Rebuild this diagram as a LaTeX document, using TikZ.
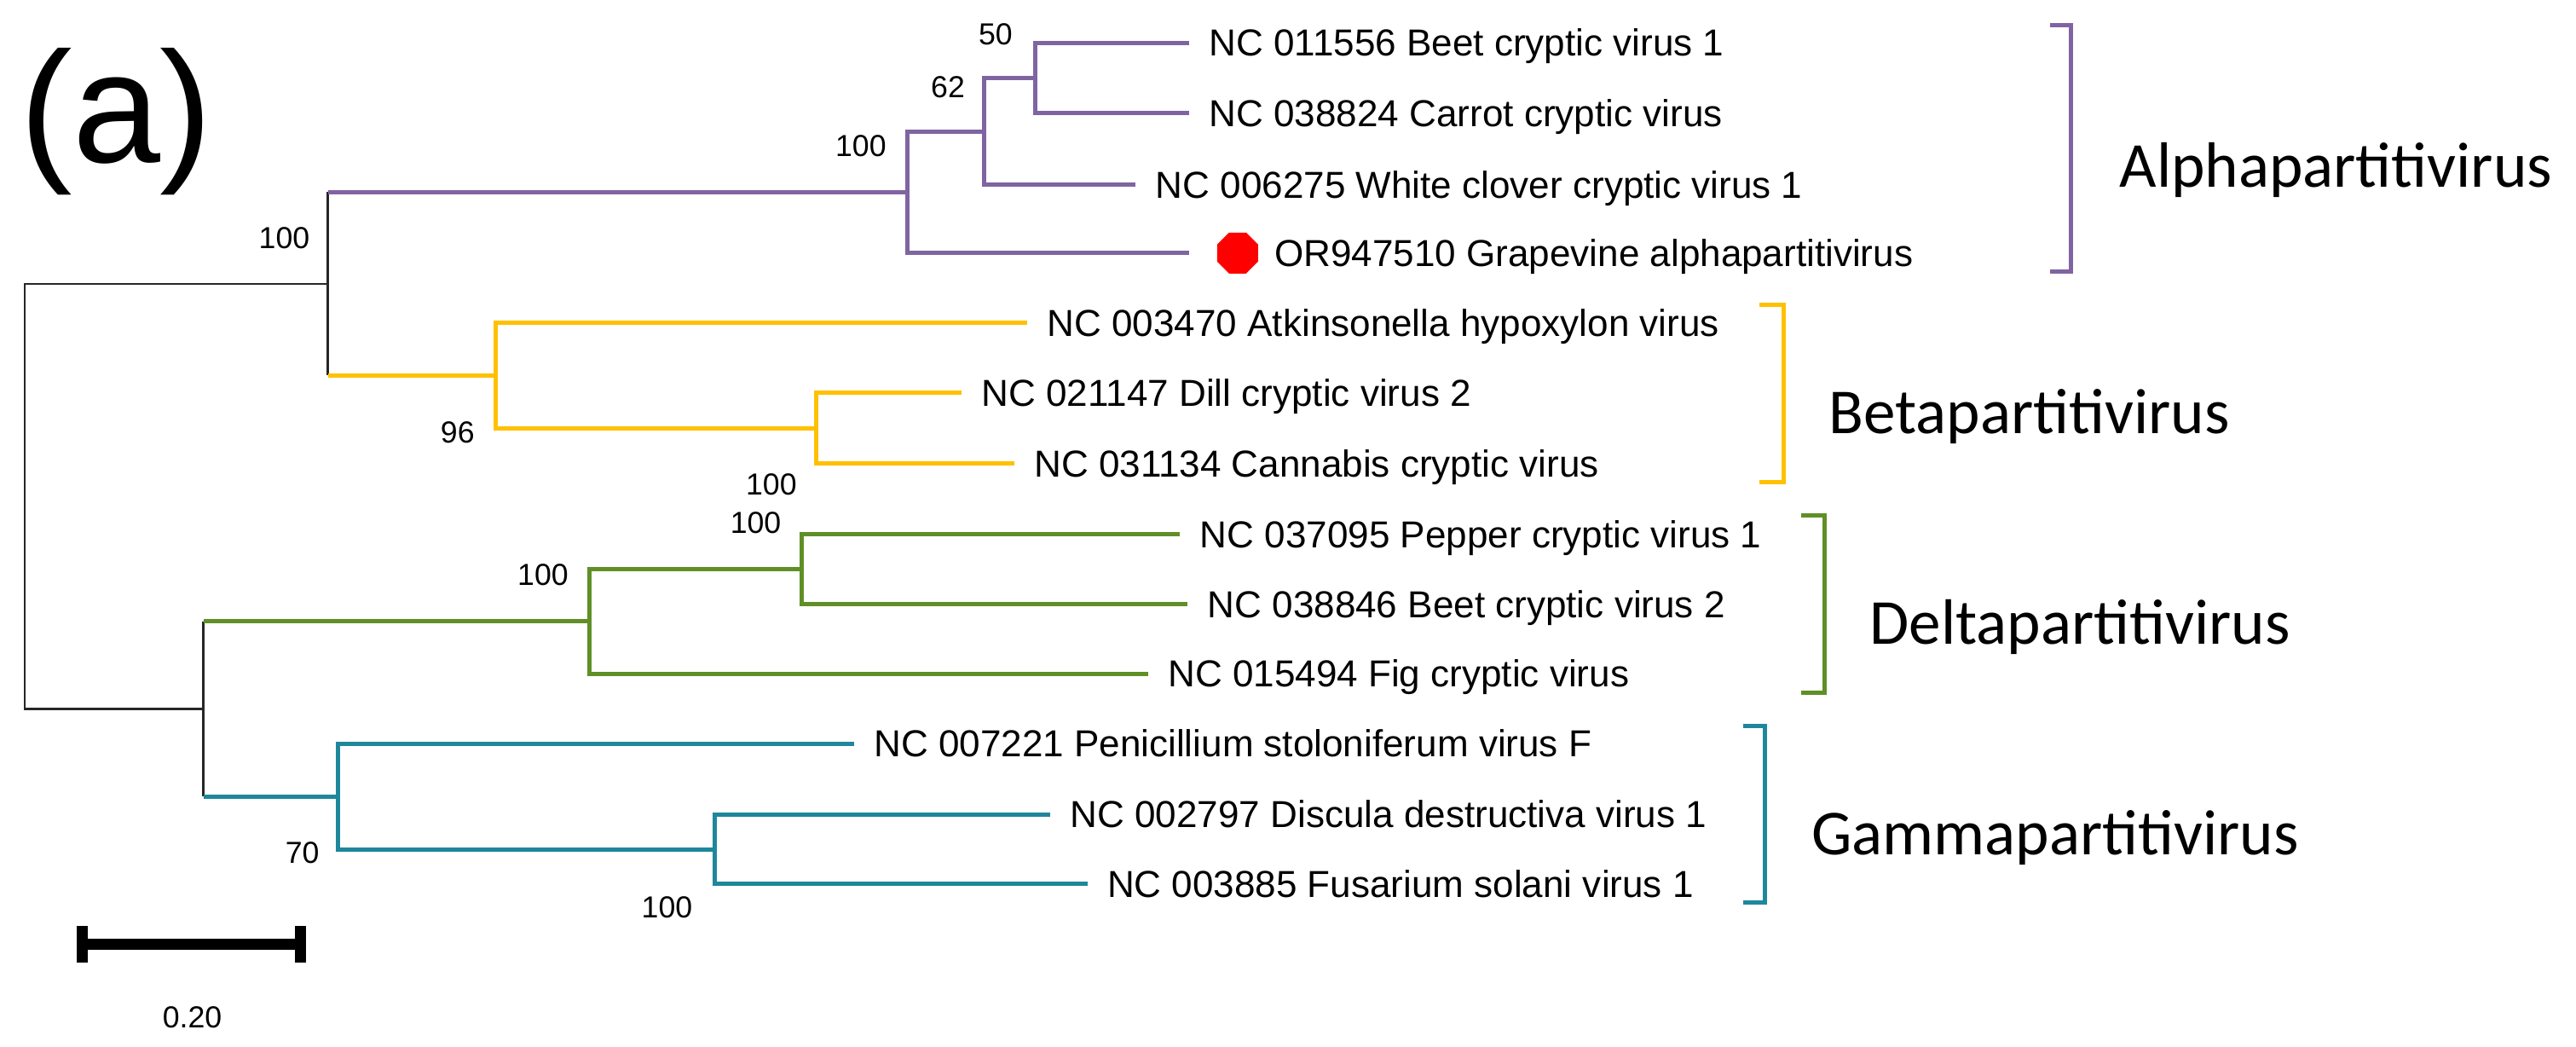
\documentclass[tikz,border=0pt]{standalone}
\usepackage{fontspec}
\setmainfont{Liberation Sans}
\newfontfamily\cladefont{Carlito}
\usetikzlibrary{shapes.geometric}
\definecolor{cAlpha}{HTML}{8064A2}
\definecolor{cBeta}{HTML}{FFC000}
\definecolor{cDelta}{HTML}{5F8F26}
\definecolor{cGamma}{HTML}{1E879B}
\newcommand\leaffont{\fontsize{22.85pt}{26pt}\selectfont}
\newcommand\suppfont{\fontsize{18.5pt}{21pt}\selectfont}
\newcommand\cladesize{\cladefont\fontsize{39pt}{44pt}\selectfont}
\begin{document}
\begin{tikzpicture}[x=1pt,y=-1pt,
  blk/.style={line width=1.3pt,black!85},
  brA/.style={line width=2.6pt,cAlpha},
  brB/.style={line width=2.6pt,cBeta},
  brD/.style={line width=2.6pt,cDelta},
  brG/.style={line width=2.6pt,cGamma},
  leaf/.style={anchor=west,inner sep=0pt,font=\leaffont,text height=16.36pt,text depth=0pt},
  supp/.style={inner sep=0pt,font=\suppfont},
  clade/.style={anchor=base west,inner sep=0pt,font=\cladesize},
  dotmark/.style={regular polygon,regular polygon sides=8,fill=red,draw=none,minimum size=27pt,inner sep=0pt},
  bracket/.style={line width=2.6pt}
]
\useasboundingbox (0,0) rectangle (1568,637);

% panel label
\node[anchor=base west,inner sep=0pt,font=\fontsize{96pt}{110pt}\selectfont] (panel) at (12,99) {(a)};

% internal nodes
\coordinate (root) at (15,302);
\coordinate (nAB) at (199.5,172.75);
\coordinate (nDG) at (123.8,431.4);
\coordinate (nA) at (552.4,117);
\coordinate (nA2) at (599,80);
\coordinate (nA3) at (630,47.5);
\coordinate (nB) at (301.5,228.5);
\coordinate (nB2) at (497,260.5);
\coordinate (nD) at (358.6,378.2);
\coordinate (nD2) at (488,346.35);
\coordinate (nG) at (205.6,484.65);
\coordinate (nG2) at (435,516.8);

% leaves
\node[leaf] (l1) at (735.9,26) {NC 011556 Beet cryptic virus 1};
\node[leaf] (l2) at (735.9,69) {NC 038824 Carrot cryptic virus};
\node[leaf] (l3) at (703.3,112.5) {NC 006275 White clover cryptic virus 1};
\node[dotmark] (dot) at (753.3,154) {};
\node[leaf] (l4) at (775.6,154) {OR947510 Grapevine alphapartitivirus};
\node[leaf] (l5) at (637.3,196.5) {NC 003470 Atkinsonella hypoxylon virus};
\node[leaf] (l6) at (597.3,239) {NC 021147 Dill cryptic virus 2};
\node[leaf] (l7) at (629.3,282) {NC 031134 Cannabis cryptic virus};
\node[leaf] (l8) at (730.3,325.2) {NC 037095 Pepper cryptic virus 1};
\node[leaf] (l9) at (734.9,367.5) {NC 038846 Beet cryptic virus 2};
\node[leaf] (l10) at (710.8,410) {NC 015494 Fig cryptic virus};
\node[leaf] (l11) at (531.8,452.5) {NC 007221 Penicillium stoloniferum virus F};
\node[leaf] (l12) at (651.3,495.6) {NC 002797 Discula destructiva virus 1};
\node[leaf] (l13) at (673.8,538) {NC 003885 Fusarium solani virus 1};

% black backbone
\draw[blk] (root) |- (nAB);
\draw[blk] (root) |- (nDG);
\draw[blk] (nAB |- nA) -- (nAB |- nB);
\draw[blk] (nDG |- nD) -- (nDG |- nG);

% Alphapartitivirus
\draw[brA] (nAB |- nA) -- (nA);
\draw[brA] (nA) |- (nA2);
\draw[brA] (nA) |- ([xshift=-16.8pt]dot.west);
\draw[brA] (nA2) |- (nA3);
\draw[brA] (nA2) |- ([xshift=-12pt]l3.west);
\draw[brA] (nA3) |- ([xshift=-12pt]l1.west);
\draw[brA] (nA3) |- ([xshift=-12pt]l2.west);

% Betapartitivirus
\draw[brB] (nAB |- nB) -- (nB);
\draw[brB] (nB) |- ([xshift=-12pt]l5.west);
\draw[brB] (nB) |- (nB2);
\draw[brB] (nB2) |- ([xshift=-12pt]l6.west);
\draw[brB] (nB2) |- ([xshift=-12pt]l7.west);

% Deltapartitivirus
\draw[brD] (nDG |- nD) -- (nD);
\draw[brD] (nD) |- (nD2);
\draw[brD] (nD) |- ([xshift=-12pt]l10.west);
\draw[brD] (nD2) |- ([xshift=-12pt]l8.west);
\draw[brD] (nD2) |- ([xshift=-12pt]l9.west);

% Gammapartitivirus
\draw[brG] (nDG |- nG) -- (nG);
\draw[brG] (nG) |- ([xshift=-12pt]l11.west);
\draw[brG] (nG) |- (nG2);
\draw[brG] (nG2) |- ([xshift=-12pt]l12.west);
\draw[brG] (nG2) |- ([xshift=-12pt]l13.west);

% support values
\node[supp] (s1) at (606,21) {50};
\node[supp] (s2) at (577,53) {62};
\node[supp] (s3) at (524,89) {100};
\node[supp] (s4) at (173,145) {100};
\node[supp] (s5) at (278.5,263) {96};
\node[supp] (s6) at (469.5,295) {100};
\node[supp] (s7) at (460,318) {100};
\node[supp] (s8) at (330.5,350) {100};
\node[supp] (s9) at (184,519) {70};
\node[supp] (s10) at (406,552) {100};

% brackets and clade names
\draw[bracket,cAlpha] (1247.6,15.2) -- (1260.5,15.2) -- (1260.5,165) -- (1247.6,165);
\draw[bracket,cBeta] (1071,185.4) -- (1085.5,185.4) -- (1085.5,293.6) -- (1071,293.6);
\draw[bracket,cDelta] (1096.5,313.5) -- (1110.4,313.5) -- (1110.4,421.7) -- (1096.5,421.7);
\draw[bracket,cGamma] (1061,442) -- (1074.4,442) -- (1074.4,549) -- (1061,549);
\node[clade] (cA) at (1290,114) {Alphapartitivirus};
\node[clade] (cB) at (1113,264) {Betapartitivirus};
\node[clade] (cD) at (1138,392) {Deltapartitivirus};
\node[clade] (cG) at (1102.5,520) {Gammapartitivirus};

% scale bar
\coordinate (sbL) at (50,574.6);
\coordinate (sbR) at (182.8,574.6);
\draw[line width=7pt] (sbL) -- (sbR);
\draw[line width=6.5pt] ([yshift=11pt]sbL) -- ([yshift=-11pt]sbL);
\draw[line width=6.5pt] ([yshift=11pt]sbR) -- ([yshift=-11pt]sbR);
\node[supp] (sbt) at (117,619) {0.20};
\end{tikzpicture}
\end{document}
